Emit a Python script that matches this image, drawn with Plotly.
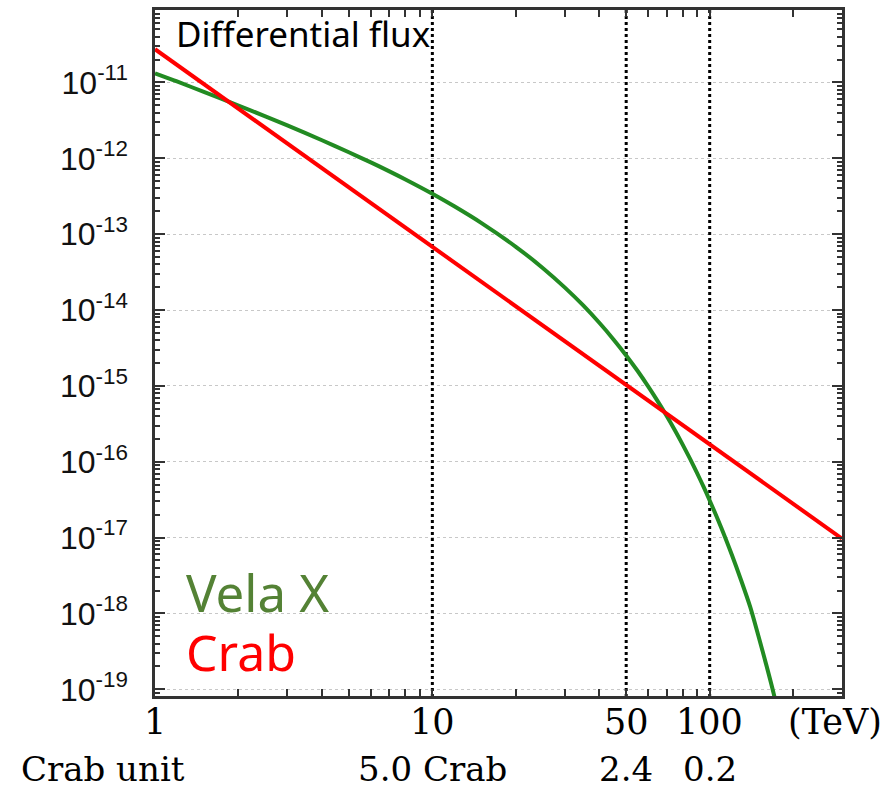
import math
import plotly.graph_objects as go

# Photon energy (TeV) and differential flux for Vela X (curved spectrum)
vela_energy = [1, 1.2, 1.5, 2, 2.5, 3, 4, 5, 6, 7, 8, 10, 12, 15, 20, 25, 30,
               35, 40, 45, 50, 55, 60, 65, 70, 75, 80, 85, 90, 95, 100, 110,
               120, 130, 140, 150, 160, 170, 180]
vela_flux = [1.32e-11, 1.03e-11, 7.50e-12, 4.96e-12, 3.57e-12, 2.71e-12,
             1.73e-12, 1.20e-12, 8.83e-13, 6.73e-13, 5.26e-13, 3.41e-13,
             2.33e-13, 1.41e-13, 6.82e-14, 3.59e-14, 1.99e-14, 1.15e-14,
             6.79e-15, 4.10e-15, 2.52e-15, 1.57e-15, 9.86e-16, 6.26e-16,
             4.01e-16, 2.58e-16, 1.67e-16, 1.09e-16, 7.13e-17, 4.69e-17,
             3.09e-17, 1.36e-17, 6.03e-18, 2.70e-18, 1.22e-18, 5.0e-19,
             2.1e-19, 8.9e-20, 3.5e-20]

# Crab Nebula reference spectrum (power law)
crab_energy = [1, 10, 50, 100, 300]
crab_flux = [2.74e-11, 6.81e-14, 1.03e-15, 1.69e-16, 9.70e-18]

# Marked energies and the Vela X flux there in Crab units
marker_energy = [10, 50, 100]
crab_units = ["5.0 Crab", "2.4", "0.2"]

x_label_vals = [1, 10, 50, 100]
x_label_text = ["1", "10", "50", "100"]
y_exponents = list(range(-19, -10))

GREEN = "#228B22"
RED = "#FF0000"
AXIS = "#333333"
SERIF = "DejaVu Serif"

fig = go.Figure()

for e in marker_energy:
    fig.add_trace(go.Scatter(
        x=[e, e], y=[1e-21, 1e-8], mode="lines",
        line=dict(color="black", width=3, dash="dot"),
        hoverinfo="skip", showlegend=False))

fig.add_trace(go.Scatter(x=vela_energy, y=vela_flux, mode="lines",
                         line=dict(color=GREEN, width=4, shape="spline",
                                   smoothing=0.8),
                         name="Vela X", showlegend=False))
fig.add_trace(go.Scatter(x=crab_energy, y=crab_flux, mode="lines",
                         line=dict(color=RED, width=4), name="Crab",
                         showlegend=False))

x_minor = [k * 10 ** d for d in range(0, 3) for k in range(2, 10) if k * 10 ** d < 300]
y_minor = [k * 10.0 ** d for d in range(-20, -9) for k in range(2, 10)]

fig.update_xaxes(
    type="log", range=[0, math.log10(300)],
    showline=True, linecolor=AXIS, linewidth=2.5, mirror="allticks",
    ticks="inside", ticklen=7, tickwidth=2, tickcolor=AXIS,
    tickmode="array", tickvals=[1, 10, 100], showticklabels=False,
    minor=dict(ticks="inside", ticklen=7, tickwidth=2, tickcolor=AXIS,
               tickmode="array", tickvals=x_minor, showgrid=False),
    showgrid=False, zeroline=False,
)
fig.update_yaxes(
    type="log", range=[-19.088, -10.045],
    showline=True, linecolor=AXIS, linewidth=2.5, mirror="allticks",
    ticks="inside", ticklen=10, tickwidth=2, tickcolor=AXIS,
    tickmode="array", tickvals=[10.0 ** p for p in y_exponents],
    ticktext=[f"10<sup>{p}</sup>" for p in y_exponents],
    tickfont=dict(family="Liberation Sans", size=32, color="#111111"),
    ticklabelstandoff=18,
    minor=dict(ticks="inside", ticklen=5, tickwidth=1.5, tickcolor=AXIS,
               tickmode="array", tickvals=y_minor, showgrid=False),
    showgrid=True, gridcolor="#c8c8c8", griddash="dot", gridwidth=1,
    zeroline=False,
)

label_y = -0.038
unit_y = -0.106

annotations = [
    dict(text="Differential flux", xref="paper", yref="paper", x=0.028, y=0.966,
         xanchor="left", yanchor="middle", showarrow=False,
         font=dict(family="Noto Sans", size=35, color="black")),
    dict(text="Vela X", xref="paper", yref="paper", x=0.042, y=0.151,
         xanchor="left", yanchor="middle", showarrow=False,
         font=dict(family="Noto Sans", size=51, color="#548235")),
    dict(text="Crab", xref="paper", yref="paper", x=0.042, y=0.064,
         xanchor="left", yanchor="middle", showarrow=False,
         font=dict(family="Noto Sans", size=50, color=RED)),
    dict(text="(TeV)", xref="paper", yref="paper", x=0.99, y=label_y,
         xanchor="center", yanchor="middle", showarrow=False,
         font=dict(family=SERIF, size=35, color="black")),
    dict(text="Crab unit", xref="paper", yref="paper", x=-0.0757, y=unit_y,
         xanchor="center", yanchor="middle", showarrow=False,
         font=dict(family=SERIF, size=34, color="black")),
]
for e, label in zip(x_label_vals, x_label_text):
    annotations.append(dict(
        text=label, xref="x", yref="paper", x=math.log10(e), y=label_y,
        xanchor="center", yanchor="middle", showarrow=False,
        font=dict(family=SERIF, size=35, color="black")))
for e, label in zip(marker_energy, crab_units):
    annotations.append(dict(
        text=label, xref="x", yref="paper", x=math.log10(e), y=unit_y,
        xanchor="center", yanchor="middle", showarrow=False,
        font=dict(family=SERIF, size=34, color="black")))

fig.update_layout(
    width=894, height=790,
    margin=dict(l=155, r=52, t=7, b=94),
    paper_bgcolor="white", plot_bgcolor="white",
    annotations=annotations,
    showlegend=False,
)

fig.write_html("out.html")
